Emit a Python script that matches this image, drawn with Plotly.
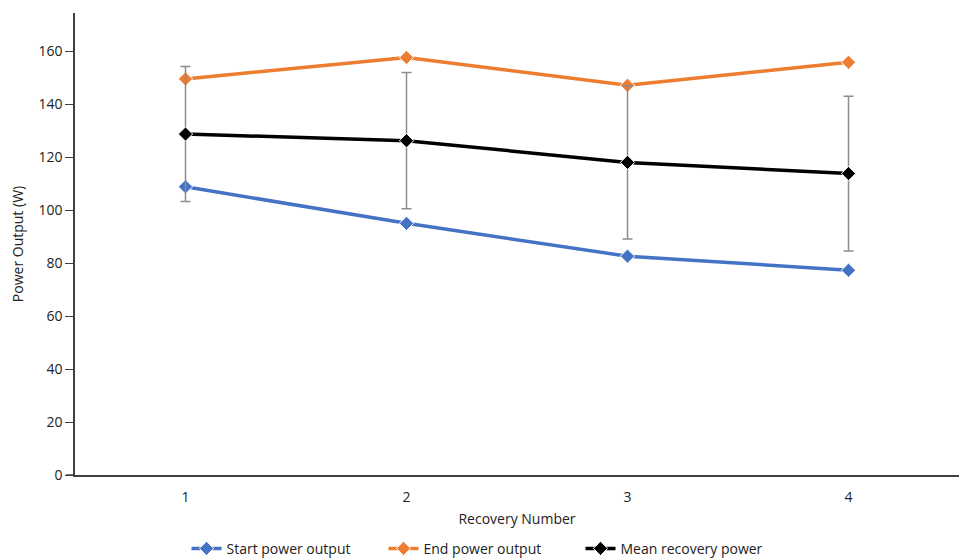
import plotly.graph_objects as go

recovery = [1, 2, 3, 4]
start_power = [108.8, 95.0, 82.6, 77.3]
end_power = [149.5, 157.6, 147.1, 155.8]
mean_power = [128.7, 126.2, 118.0, 113.8]
mean_err = [25.5, 25.7, 28.9, 29.2]
y_ticks = [0, 20, 40, 60, 80, 100, 120, 140, 160]

FONT = "Open Sans"

fig = go.Figure()
fig.add_trace(go.Scatter(
    x=recovery, y=start_power, name="Start power output", mode="lines+markers",
    line=dict(color="#4472C4", width=3.5),
    marker=dict(symbol="diamond", size=11, color="#4472C4", line=dict(color="white", width=1)),
))
fig.add_trace(go.Scatter(
    x=recovery, y=end_power, name="End power output", mode="lines+markers",
    line=dict(color="#ED7D31", width=3.5),
    marker=dict(symbol="diamond", size=11, color="#ED7D31", line=dict(color="white", width=1)),
))
fig.add_trace(go.Scatter(
    x=recovery, y=mean_power, name="Mean recovery power", mode="lines+markers",
    line=dict(color="black", width=3.5),
    marker=dict(symbol="diamond", size=11, color="black", line=dict(color="white", width=1)),
    error_y=dict(type="data", array=mean_err, visible=True, color="#8C8C8C", thickness=1.5, width=5),
))

fig.update_layout(
    width=964, height=560,
    margin=dict(l=75, r=5, t=13, b=85),
    paper_bgcolor="white", plot_bgcolor="white",
    font=dict(family=FONT, size=13, color="#222222"),
    showlegend=True,
    legend=dict(orientation="h", xref="container", yref="container", x=0.5, xanchor="center",
                y=0.02, yanchor="middle", font=dict(size=14, color="#222222"),
                entrywidth=152, entrywidthmode="pixels", itemwidth=30),
    xaxis=dict(
        range=[0.5, 4.5], tickvals=recovery, ticktext=[str(v) for v in recovery],
        showgrid=False, zeroline=False, showline=True, linecolor="#404040", linewidth=1.5,
        ticks="outside", ticklen=8, tickcolor="rgba(0,0,0,0)", automargin=False,
        title=dict(text="Recovery Number", font=dict(size=14), standoff=10),
        tickfont=dict(size=14),
    ),
    yaxis=dict(
        range=[0, 174.4], tickvals=y_ticks, showgrid=False, zeroline=False,
        showline=True, linecolor="#404040", linewidth=1.5, ticks="outside", ticklen=8,
        tickcolor="#404040", tickwidth=1.2, automargin=False,
        title=dict(text="Power Output (W)", font=dict(size=14), standoff=12),
        tickfont=dict(size=14),
    ),
)
fig.add_shape(type="line", xref="paper", yref="y", x0=-0.01, x1=0, y0=0, y1=0,
              line=dict(color="#404040", width=1.5))

fig.write_html("out.html", config={"displayModeBar": False},
               post_script="document.body.style.margin='0';document.body.style.overflow='hidden';")
